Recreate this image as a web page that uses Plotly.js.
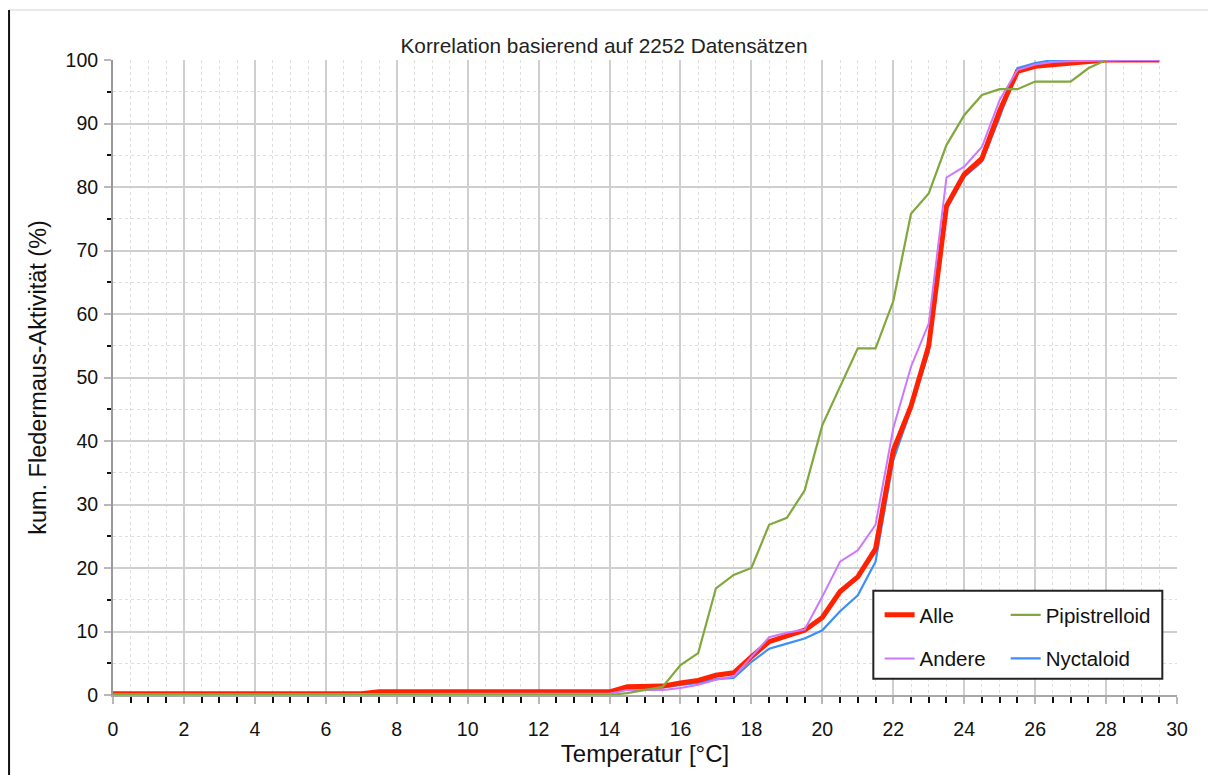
<!DOCTYPE html>
<html>
<head>
<meta charset="utf-8">
<script src="https://cdn.plot.ly/plotly-3.0.1.min.js"></script>
<style>html,body{margin:0;padding:0;background:#fff;}#chart{width:1208px;height:775px;}</style>
</head>
<body>
<div id="chart"></div>
<script>
// Temperature steps (°C)
var temperatur = [0,0.5,1,1.5,2,2.5,3,3.5,4,4.5,5,5.5,6,6.5,7,7.5,8,8.5,9,9.5,10,10.5,11,11.5,12,12.5,13,13.5,14,14.5,15,15.5,16,16.5,17,17.5,18,18.5,19,19.5,20,20.5,21,21.5,22,22.5,23,23.5,24,24.5,25,25.5,26,26.5,27,27.5,28,28.5,29,29.5];

var alle = [0.2,0.2,0.2,0.2,0.2,0.2,0.2,0.2,0.2,0.2,0.2,0.2,0.2,0.2,0.2,
  0.5,0.5,0.5,0.5,0.5,0.5,0.5,0.5,0.5,0.5,0.5,0.5,0.5,0.5,
  1.3,1.3,1.4,1.9,2.3,3.1,3.5,6,8.4,9.3,10.2,12.2,16.3,18.6,23,38.5,45.5,55,77,82,84.5,92,98.2,99,99.3,99.5,99.7,100,100,100,100];

var andere = [0.1,0.1,0.1,0.1,0.1,0.1,0.1,0.1,0.1,0.1,0.1,0.1,0.1,0.1,0.1,
  0.2,0.2,0.2,0.2,0.2,0.2,0.2,0.2,0.2,0.2,0.2,0.2,0.2,0.2,
  0.8,0.8,0.8,1.1,1.6,2.4,2.9,6,9.1,9.8,10.3,15.5,21,22.8,26.8,42,51.7,58.5,81.5,83.2,86.3,93.7,98.4,99.3,99.7,99.8,99.9,100,100,100,100];

var pipistrelloid = [0,0,0,0,0,0,0,0,0,0,0,0,0,0,0,
  0,0,0,0,0,0,0,0,0,0,0,0,0,0,
  0.3,0.8,1.3,4.7,6.6,16.8,18.9,20,26.8,27.9,32.2,42.5,48.6,54.6,54.6,62,75.8,79,86.6,91.3,94.5,95.4,95.4,96.6,96.6,96.6,98.7,100,null,null,null];

var nyctaloid = [0,0,0,0,0,0,0,0,0,0,0,0,0,0,0,
  0.6,0.6,0.6,0.6,0.6,0.6,0.6,0.6,0.6,0.6,0.6,0.6,0.6,0.6,
  1.1,1.2,1.2,1.6,1.9,2.5,2.7,5.2,7.3,8.1,8.9,10.2,13.2,15.7,21,37,45,54,76.5,81.6,84,91,98.7,99.5,100,100,100,100,null,null,null];

var FONT = '"Liberation Sans", Arial, Helvetica, sans-serif';

var traces = [
  {x: temperatur, y: nyctaloid, name: 'Nyctaloid', type: 'scatter', mode: 'lines',
   line: {color: '#3d8ef8', width: 2.2}, legend: 'legend2', legendgroup: 'n', legendrank: 2},
  {x: temperatur, y: alle, name: 'Alle', type: 'scatter', mode: 'lines',
   line: {color: '#ff2200', width: 5}, legend: 'legend', legendgroup: 'a', legendrank: 1},
  {x: temperatur, y: andere, name: 'Andere', type: 'scatter', mode: 'lines',
   line: {color: '#cc77ff', width: 2}, legend: 'legend', legendgroup: 'b', legendrank: 2},
  {x: temperatur, y: pipistrelloid, name: 'Pipistrelloid', type: 'scatter', mode: 'lines',
   line: {color: '#80a83c', width: 2.2}, legend: 'legend2', legendgroup: 'p', legendrank: 1}
];

var layout = {
  width: 1208, height: 775,
  margin: {l: 113, r: 31, t: 60, b: 80},
  paper_bgcolor: '#ffffff', plot_bgcolor: '#ffffff',
  font: {family: FONT, color: '#111111'},
  title: {text: 'Korrelation basierend auf 2252 Datensätzen', font: {size: 20.8, family: FONT, color: '#222'},
          x: 0.5, xref: 'container', y: 1 - 46/775, yref: 'container', yanchor: 'middle'},
  xaxis: {
    range: [0, 30], dtick: 2, tick0: 0,
    showline: true, linecolor: '#a8a8a8', linewidth: 2,
    ticks: 'outside', ticklen: 7, tickwidth: 1.5, tickcolor: '#b8b8b8',
    showgrid: true, gridcolor: '#cfcfcf', gridwidth: 1.5, zeroline: false,
    tickfont: {size: 19.5, family: FONT, color: '#111'}, ticklabelstandoff: 9,
    minor: {dtick: 0.5, ticks: 'outside', ticklen: 6, tickwidth: 1.5, tickcolor: '#111',
            showgrid: true, gridcolor: '#dedede', gridwidth: 1, griddash: '3px,3px'},
    title: {text: 'Temperatur [°C]', font: {size: 24, family: FONT, color: '#111'}, standoff: 2}
  },
  yaxis: {
    range: [0, 100], dtick: 10, tick0: 0,
    showline: true, linecolor: '#9a9a9a', linewidth: 2,
    ticks: 'outside', ticklen: 7, tickwidth: 1.5, tickcolor: '#b8b8b8',
    showgrid: true, gridcolor: '#cfcfcf', gridwidth: 1.5, zeroline: false,
    tickfont: {size: 19.5, family: FONT, color: '#111'}, ticklabelstandoff: 2,
    minor: {dtick: 5, ticks: 'outside', ticklen: 4, tickwidth: 1.5, tickcolor: '#111',
            showgrid: true, gridcolor: '#dedede', gridwidth: 1, griddash: '3px,3px'},
    title: {text: 'kum. Fledermaus-Aktivität (%)', font: {size: 23.5, family: FONT, color: '#111'}, standoff: 12}
  },
  showlegend: true,
  legend: {x: 0.7205, y: 0.1575, xanchor: 'left', yanchor: 'top', bgcolor: 'rgba(0,0,0,0)',
           borderwidth: 0, font: {size: 20.5, family: FONT, color: '#111'},
           traceorder: 'grouped', tracegroupgap: 14, orientation: 'v'},
  legend2: {x: 0.839, y: 0.1575, xanchor: 'left', yanchor: 'top', bgcolor: 'rgba(0,0,0,0)',
           borderwidth: 0, font: {size: 20.5, family: FONT, color: '#111'},
           traceorder: 'grouped', tracegroupgap: 14, orientation: 'v'},
  shapes: [
    {type: 'rect', xref: 'paper', yref: 'paper', x0: 0.7146, x1: 0.9862, y0: 0.0257, y1: 0.1643,
     fillcolor: '#ffffff', line: {color: '#222222', width: 2}, layer: 'above'},
    {type: 'line', xref: 'paper', yref: 'paper', x0: -0.0977, x1: 1.1, y0: 1.0787, y1: 1.0787,
     line: {color: '#e2e2e2', width: 1.5}},
    {type: 'line', xref: 'paper', yref: 'paper', x0: -0.0977, x1: -0.0977, y0: 1.0787, y1: -0.2,
     line: {color: '#111111', width: 2}}
  ]
};

Plotly.newPlot('chart', traces, layout, {displayModeBar: false, responsive: false});
</script>
</body>
</html>
